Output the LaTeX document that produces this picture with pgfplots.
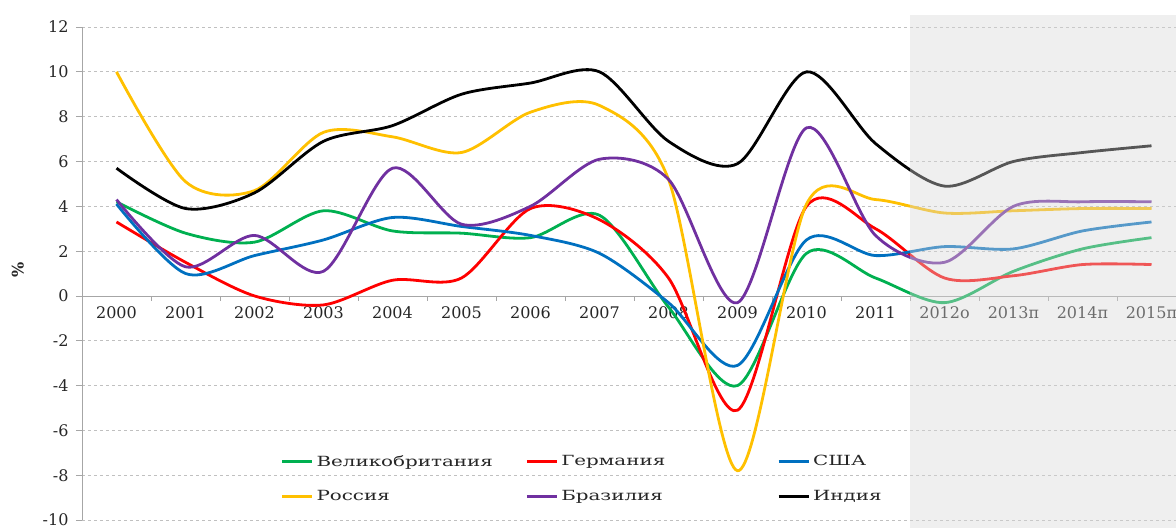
\documentclass[border=0pt]{standalone}
\usepackage{fontspec}
\setmainfont{DejaVu Serif}
\usepackage{pgfplots}
\usepackage{pgfplotstable}
\pgfplotsset{compat=1.18}

\definecolor{cUK}{HTML}{00B050}
\definecolor{cDE}{HTML}{FF0000}
\definecolor{cUS}{HTML}{0070C0}
\definecolor{cRU}{HTML}{FFC000}
\definecolor{cBR}{HTML}{7030A0}
\definecolor{cIN}{HTML}{000000}
\definecolor{axgray}{HTML}{A6A6A6}
\definecolor{gridgray}{HTML}{C0C0C0}
\definecolor{txt}{HTML}{262626}
\definecolor{shadegray}{HTML}{D7D7D7}

% рост ВВП, % (2012 - оценка, 2013-2015 - прогноз)
\pgfplotstableread{
idx uk de us ru br in
0  4.2  3.3  4.1 10.0  4.3  5.7
1  2.8  1.5  1.0  5.1  1.3  3.9
2  2.4  0.0  1.8  4.7  2.7  4.6
3  3.8 -0.4  2.5  7.3  1.1  6.9
4  2.9  0.7  3.5  7.1  5.7  7.6
5  2.8  0.8  3.1  6.4  3.2  9.0
6  2.6  3.9  2.7  8.2  4.0  9.5
7  3.6  3.4  1.9  8.5  6.1 10.0
8 -0.5  0.8 -0.3  5.2  5.2  6.9
9 -4.0 -5.1 -3.1 -7.8 -0.3  5.9
10 1.9  4.0  2.5  4.1  7.5 10.0
11 0.8  3.0  1.8  4.3  2.7  6.8
12 -0.3 0.8  2.2  3.7  1.5  4.9
13 1.1  0.9  2.1  3.8  4.0  6.0
14 2.1  1.4  2.9  3.9  4.2  6.4
15 2.6  1.4  3.3  3.9  4.2  6.7
}\growth

\newcommand{\legtxt}[2][206pt]{\makebox[#1][l]{\scalebox{1.42}[1]{#2}}}

\begin{document}
\begin{tikzpicture}
\begin{axis}[
  scale only axis, width=1104pt, height=493pt,
  xmin=-0.5, xmax=15.5, ymin=-10, ymax=12,
  axis x line*=middle, axis y line*=left,
  hide obscured x ticks=false, hide obscured y ticks=false,
  axis line style={axgray, line width=0.8pt},
  xtick={0,...,15},
  xticklabels={2000,2001,2002,2003,2004,2005,2006,2007,2008,2009,2010,2011,2012о,2013п,2014п,2015п},
  major x tick style={draw=none},
  minor xtick={0.5,1.5,...,14.5},
  minor x tick style={axgray, line width=0.8pt},
  minor tick length=5pt,
  ytick={-10,-8,...,12},
  y tick style={axgray, line width=0.8pt},
  major tick length=6pt,
  tick align=outside,
  ymajorgrids,
  grid style={gridgray, dash pattern=on 3pt off 3pt, line width=0.8pt},
  /pgf/number format/assume math mode=true,
  tick label style={font=\fontsize{16}{18}\selectfont, text=txt},
  xticklabel style={yshift=-1pt},
  yticklabel style={xshift=-4pt},
  ylabel={\textbf{\%}},
  ylabel style={at={(axis cs:-1.43,1.16)}, anchor=center, font=\fontsize{16}{18}\selectfont, text=txt},
  legend columns=3,
  legend style={draw=none, fill=none, inner sep=0pt,
    at={(axis cs:2.377,-6.97)}, anchor=north west,
    font=\fontsize{14}{17}\selectfont, text=txt,
    nodes={inner sep=3pt}, row sep=17pt, column sep=0pt},
  legend cell align=left,
  legend image code/.code={\draw[#1, line width=2.8pt] (0pt,0pt) -- (30pt,0pt);},
  every axis plot/.append style={line width=2.8pt, smooth, tension=0.5},
]
\addplot[cUK] table[x=idx, y=uk] {\growth};
\addlegendentry{\legtxt{Великобритания}}
\addplot[cDE] table[x=idx, y=de] {\growth};
\addlegendentry{\legtxt[213pt]{Германия}}
\addplot[cUS] table[x=idx, y=us] {\growth};
\addlegendentry{\legtxt{США}}
\addplot[cRU] table[x=idx, y=ru] {\growth};
\addlegendentry{\legtxt{Россия}}
\addplot[cBR] table[x=idx, y=br] {\growth};
\addlegendentry{\legtxt[213pt]{Бразилия}}
\addplot[cIN] table[x=idx, y=in] {\growth};
\addlegendentry{\legtxt{Индия}}

\coordinate (sh1) at (axis cs:11.5,12.54);
\coordinate (sh2) at (axis cs:16.5,-11);
\coordinate (bl) at (axis cs:-1.6884,-10.3125);
\coordinate (tr) at (axis cs:15.3551,13.2054);
\end{axis}
\fill[shadegray, opacity=0.4] (sh1) rectangle (sh2);
\pgfresetboundingbox
\path[use as bounding box] (bl) rectangle (tr);
\end{tikzpicture}
\end{document}
